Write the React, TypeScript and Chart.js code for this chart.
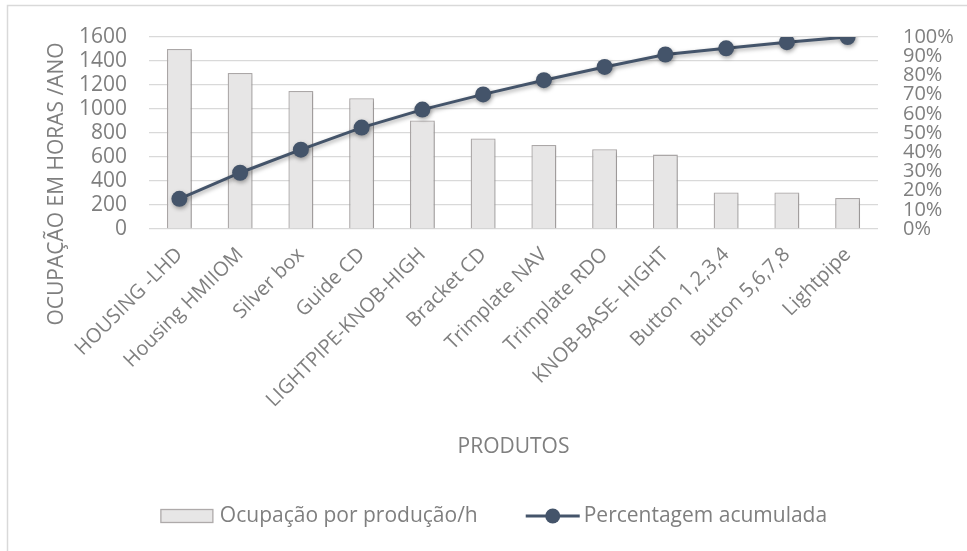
import { useEffect, useRef } from "react";
import { Chart, registerables } from "chart.js";

Chart.register(...registerables);

const categories = [
  "HOUSING -LHD",
  "Housing HMIIOM",
  "Silver box",
  "Guide CD",
  "LIGHTPIPE-KNOB-HIGH",
  "Bracket CD",
  "Trimplate NAV",
  "Trimplate RDO",
  "KNOB-BASE- HIGHT",
  "Button 1,2,3,4",
  "Button 5,6,7,8",
  "Lightpipe",
];
const occupationHours = [1500, 1300, 1150, 1090, 905, 755, 700, 665, 620, 305, 305, 258];
const cumulativePercent = [15.7, 29.3, 41.3, 52.8, 62.2, 70.1, 77.5, 84.4, 90.9, 94.1, 97.3, 100];
const leftAxis = { min: 0, max: 1600, step: 200 };
const rightAxis = { min: 0, max: 100, step: 10 };
const seriesLabels = ["Ocupação por produção/h", "Percentagem acumulada"];
const yTitle = "OCUPAÇÃO EM HORAS /ANO";
const xTitle = "PRODUTOS";

const FONT = "'Open Sans', 'Noto Sans', sans-serif";
const TEXT = "#7f7f7f";
const GRID = "#d9d9d9";
const BAR_FILL = "#e7e6e6";
const BAR_BORDER = "#aeaaaa";
const LINE = "#44546a";

const decorations = {
  id: "decorations",
  beforeDraw(chart: any) {
    const ctx = chart.ctx;
    ctx.save();
    ctx.fillStyle = "#ffffff";
    ctx.fillRect(0, 0, chart.width, chart.height);
    ctx.strokeStyle = GRID;
    ctx.lineWidth = 1.5;
    ctx.beginPath();
    ctx.moveTo(7.5, chart.height);
    ctx.lineTo(7.5, 5.5);
    ctx.lineTo(chart.width, 5.5);
    ctx.stroke();
    ctx.restore();
  },
  beforeDatasetDraw(chart: any, args: any) {
    const ctx = chart.ctx;
    ctx.save();
    if (args.index === 1) {
      ctx.shadowColor = "rgba(0,0,0,0.35)";
      ctx.shadowBlur = 4;
      ctx.shadowOffsetX = 1;
      ctx.shadowOffsetY = 2;
    } else {
      ctx.shadowColor = "rgba(0,0,0,0.18)";
      ctx.shadowBlur = 3;
      ctx.shadowOffsetX = 1;
      ctx.shadowOffsetY = 1;
    }
  },
  afterDatasetDraw(chart: any) {
    chart.ctx.restore();
  },
  afterDraw(chart: any) {
    const ctx = chart.ctx;
    const area = chart.chartArea;
    ctx.save();
    ctx.fillStyle = TEXT;
    ctx.font = `21px ${FONT}`;
    ctx.textBaseline = "middle";

    // y-axis title
    ctx.save();
    ctx.translate(57, 184);
    ctx.rotate(-Math.PI / 2);
    ctx.textAlign = "center";
    ctx.fillText(yTitle, 0, 0);
    ctx.restore();

    // x-axis title
    ctx.textAlign = "center";
    ctx.fillText(xTitle, (area.left + area.right) / 2, 447);

    // legend
    const ds = chart.data.datasets;
    const t1 = ds[0].label;
    const t2 = ds[1].label;
    const w1 = ctx.measureText(t1).width;
    const w2 = ctx.measureText(t2).width;
    const boxW = 52, boxH = 13, gapBoxText = 7, itemGap = 48, lineW = 54, gapLineText = 4;
    const total = boxW + gapBoxText + w1 + itemGap + lineW + gapLineText + w2;
    let x = 494 - total / 2;
    const cy = 516;
    ctx.fillStyle = BAR_FILL;
    ctx.fillRect(x, cy - boxH / 2, boxW, boxH);
    ctx.strokeStyle = BAR_BORDER;
    ctx.lineWidth = 1.3;
    ctx.strokeRect(x, cy - boxH / 2, boxW, boxH);
    x += boxW + gapBoxText;
    ctx.fillStyle = TEXT;
    ctx.textAlign = "left";
    ctx.fillText(t1, x, cy);
    x += w1 + itemGap;
    ctx.strokeStyle = LINE;
    ctx.lineWidth = 3;
    ctx.beginPath();
    ctx.moveTo(x, cy);
    ctx.lineTo(x + lineW, cy);
    ctx.stroke();
    ctx.fillStyle = LINE;
    ctx.beginPath();
    ctx.arc(x + lineW / 2, cy, 7.5, 0, Math.PI * 2);
    ctx.fill();
    x += lineW + gapLineText;
    ctx.fillStyle = TEXT;
    ctx.fillText(t2, x, cy);
    ctx.restore();
  },
};

export default function App() {
  const ref = useRef<HTMLCanvasElement>(null);
  useEffect(() => {
    if (!ref.current) return;
    const chart = new Chart(ref.current, {
      data: {
        labels: categories,
        datasets: [
          {
            type: "bar",
            label: seriesLabels[0],
            data: occupationHours,
            backgroundColor: BAR_FILL,
            borderColor: BAR_BORDER,
            borderWidth: 1.3,
            yAxisID: "y",
            order: 2,
            categoryPercentage: 1,
            barPercentage: 0.41,
          },
          {
            type: "line",
            label: seriesLabels[1],
            data: cumulativePercent,
            borderColor: LINE,
            backgroundColor: LINE,
            borderWidth: 3,
            pointRadius: 8,
            pointBackgroundColor: LINE,
            pointBorderColor: LINE,
            pointBorderWidth: 0,
            yAxisID: "y1",
            order: 1,
            tension: 0,
          },
        ],
      } as any,
      options: {
        responsive: false,
        animation: false,
        devicePixelRatio: 1,
        layout: { padding: { top: 34, left: 0, right: 0, bottom: 0 } },
        plugins: {
          legend: { display: false },
          tooltip: { enabled: false },
        },
        scales: {
          x: {
            offset: true,
            grid: { display: false, drawTicks: false },
            border: { display: false },
            ticks: {
              color: TEXT,
              font: { family: FONT, size: 20 },
              minRotation: 45,
              maxRotation: 45,
              autoSkip: false,
              padding: 14,
            },
            afterFit(scale: any) {
              scale.height = 322;
            },
          },
          y: {
            position: "left",
            min: leftAxis.min,
            max: leftAxis.max,
            grid: { color: GRID, lineWidth: 1.3, drawTicks: false },
            border: { display: false },
            ticks: {
              stepSize: leftAxis.step,
              autoSkip: false,
              color: TEXT,
              font: { family: FONT, size: 21 },
              padding: 22,
              callback: (v: any) => `${v}`,
            },
            afterFit(scale: any) {
              scale.width = 149;
            },
          },
          y1: {
            position: "right",
            min: rightAxis.min,
            max: rightAxis.max,
            grid: { display: false, drawTicks: false },
            border: { display: false },
            ticks: {
              stepSize: rightAxis.step,
              autoSkip: false,
              color: TEXT,
              font: { family: FONT, size: 20 },
              padding: 25,
              callback: (v: any) => `${v}%`,
            },
            afterFit(scale: any) {
              scale.width = 89;
            },
          },
        },
      } as any,
      plugins: [decorations],
    });
    return () => chart.destroy();
  }, []);
  return (
    <div style={{ position: "fixed", left: 0, top: 0, width: 967, height: 551 }}>
      <canvas ref={ref} width={967} height={551} style={{ width: 967, height: 551, display: "block" }} />
    </div>
  );
}
